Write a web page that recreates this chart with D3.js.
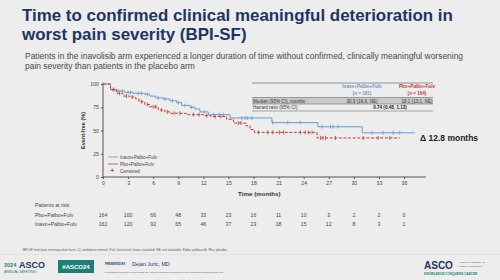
<!DOCTYPE html>
<html>
<head>
<meta charset="utf-8">
<script src="https://cdn.jsdelivr.net/npm/d3@7"></script>
<style>
  body { margin: 0; background: #ededed; }
  svg { display: block; font-family: "Liberation Sans", Arial, sans-serif; }
</style>
</head>
<body>
<div id="chart"></div>
<script>
(function() {
"use strict";

// chart data
var months = [0, 3, 6, 9, 12, 15, 18, 21, 24, 27, 30, 33, 36];
var yTicks = [0, 25, 50, 75, 100];
var riskPbo = [164, 100, 66, 48, 33, 23, 16, 11, 10, 3, 2, 2, 0];
var riskInavo = [161, 120, 92, 65, 46, 37, 23, 18, 15, 12, 8, 3, 1];

var inavoTimes = [0, 0.9, 1.6, 2.6, 3.6, 5.0, 5.6, 6.3, 7.2, 8.0, 8.8, 9.4, 10.4, 11.0, 11.6, 12.6, 15.2, 20.2, 25.7, 31.0, 37.3];
var inavoSurv  = [100, 94, 92.5, 91, 90, 89, 87, 85, 84, 82, 80, 77, 75, 73, 70, 67, 63.5, 58.5, 54, 47.5, 47.5];
var inavoCensor = [1.2, 1.8, 2.3, 3.0, 3.3, 4.2, 4.6, 5.3, 6.6, 7.4, 8.3, 9.0, 9.8, 10.6, 12.1, 13.2, 13.9, 14.4, 16.6, 17.0, 17.3, 17.8, 20.3, 22.1, 23.6, 26.2, 27.2, 27.5, 28.1, 32.2, 33.5, 34.7, 35.5];

var pboTimes = [0, 0.9, 1.6, 2.4, 3.2, 3.9, 4.3, 5.0, 5.6, 6.6, 7.4, 8.1, 10.0, 12.0, 12.9, 14.8, 15.6, 17.1, 17.6, 18.1, 25.6, 35.5];
var pboSurv  = [100, 94, 90, 87, 86, 84, 81, 78, 75.5, 72, 70, 68.5, 67, 66, 65, 62, 58, 55, 51, 48, 42, 42];
var pboCensor = [1.3, 2.0, 2.8, 3.5, 4.6, 5.3, 6.0, 6.3, 7.0, 7.7, 8.5, 9.2, 10.8, 11.5, 12.4, 13.4, 14.1, 16.2, 16.5, 18.6, 19.7, 20.3, 21.1, 21.6, 23.6, 24.2, 24.6, 25.0, 26.0, 26.3, 26.6, 27.8, 31.1, 32.9, 34.3];

var names = ["Inavo+Palbo+Fulv", "Pbo+Palbo+Fulv"];
var nPerArm = [161, 164];
var medians = ["30.9 (16.6, NE)", "18.1 (13.1, NE)"];
var hazard = "0.74 (0.48, 1.13)";

var blue = "#6a97cc";
var red = "#c23b32";
var navy = "#1c3563";
var teal = "#1d8074";

var width = 500, height = 280;

var svg = d3.select("#chart").append("svg")
    .attr("width", width)
    .attr("height", height);

svg.append("rect").attr("width", width).attr("height", height).attr("fill", "#ededed");

// fit a text element to a given width by changing its font size
function fitText(sel, w) {
    var len = sel.node().getComputedTextLength();
    var fs = parseFloat(sel.attr("font-size"));
    sel.attr("font-size", fs * w / len);
}

// title + subtitle
var t1 = svg.append("text").attr("x", 22).attr("y", 21).attr("font-size", 17).attr("font-weight", "bold")
    .attr("fill", navy).text("Time to confirmed clinical meaningful deterioration in");
fitText(t1, 431);
svg.append("text").attr("x", 22).attr("y", 40).attr("font-size", t1.attr("font-size")).attr("font-weight", "bold")
    .attr("fill", navy).text("worst pain severity (BPI-SF)");

var s1 = svg.append("text").attr("x", 25).attr("y", 59).attr("font-size", 7.5).attr("fill", "#4a4a4a")
    .text("Patients in the inavolisib arm experienced a longer duration of time without confirmed, clinically meaningful worsening");
fitText(s1, 439);
svg.append("text").attr("x", 25).attr("y", 69).attr("font-size", s1.attr("font-size")).attr("fill", "#4a4a4a")
    .text("pain severity than patients in the placebo arm");

// scales
var x = d3.scaleLinear().domain([0, 36]).range([103, 404]);
var y = d3.scaleLinear().domain([0, 100]).range([177, 84]);

// axes
var xAxis = svg.append("g").attr("transform", "translate(0," + y(0) + ")")
    .call(d3.axisBottom(x).tickValues(months).tickSize(2).tickPadding(2));
xAxis.select(".domain").attr("d", "M" + x(0) + ",0H" + x(38.6)).attr("stroke", "#555").attr("stroke-width", 1.2);
xAxis.selectAll("text").attr("font-size", 5.2).attr("fill", "#444").attr("font-family", "Liberation Sans, Arial");
xAxis.selectAll(".tick line").attr("stroke", "#555");

var yAxis = svg.append("g").attr("transform", "translate(" + x(0) + ",0)")
    .call(d3.axisLeft(y).tickValues(yTicks).tickSize(2).tickPadding(2));
yAxis.select(".domain").attr("d", "M0," + y(101.5) + "V" + y(0)).attr("stroke", "#555").attr("stroke-width", 1);
yAxis.selectAll("text").attr("font-size", 5.2).attr("fill", "#444").attr("font-family", "Liberation Sans, Arial");
yAxis.selectAll(".tick line").attr("stroke", "#555");

svg.append("text").attr("transform", "translate(85," + y(50) + ") rotate(-90)")
    .attr("text-anchor", "middle").attr("font-size", 5.5).attr("font-weight", "bold").attr("fill", "#333")
    .text("Event-free (%)");
svg.append("text").attr("x", x(18.7)).attr("y", 196).attr("text-anchor", "middle")
    .attr("font-size", 6.2).attr("font-weight", "bold").attr("fill", "#333").text("Time (months)");

// KM curves
var line = d3.line().curve(d3.curveStepAfter)
    .x(function(d) { return x(d[0]); })
    .y(function(d) { return y(d[1]); });

function stepAt(times, surv, t) {
    var i = d3.bisectRight(times, t) - 1;
    return surv[Math.max(0, i)];
}

var arms = [
    { times: inavoTimes, surv: inavoSurv, censor: inavoCensor, color: blue, dash: null },
    { times: pboTimes, surv: pboSurv, censor: pboCensor, color: red, dash: "3,1.6" }
];

arms.forEach(function(a) {
    var pts = a.times.map(function(t, i) { return [t, a.surv[i]]; });
    svg.append("path").datum(pts).attr("d", line)
        .attr("fill", "none").attr("stroke", a.color).attr("stroke-width", 1)
        .attr("stroke-dasharray", a.dash);
    svg.append("g").selectAll("line").data(a.censor).enter().append("line")
        .attr("x1", function(d) { return x(d); })
        .attr("x2", function(d) { return x(d); })
        .attr("y1", function(d) { return y(stepAt(a.times, a.surv, d)) - 2; })
        .attr("y2", function(d) { return y(stepAt(a.times, a.surv, d)) + 2; })
        .attr("stroke", a.color).attr("stroke-width", 0.8);
});

// legend
var leg = svg.append("g").attr("font-size", 4.6).attr("fill", "#444");
[blue, red].forEach(function(c, i) {
    leg.append("line").attr("x1", 108).attr("x2", 118).attr("y1", 157 + i * 7).attr("y2", 157 + i * 7)
        .attr("stroke", c).attr("stroke-width", 0.8);
    leg.append("text").attr("x", 120).attr("y", 158.6 + i * 7).text(names[i]);
});
leg.append("text").attr("x", 110).attr("y", 173.2).attr("font-size", 7.5).attr("fill", "#333").text("+");
leg.append("text").attr("x", 120).attr("y", 172.6).text("Censored");

// summary table
var tbl = svg.append("g").attr("font-size", 4.6);
tbl.append("line").attr("x1", 252).attr("x2", 433).attr("y1", 83).attr("y2", 83).attr("stroke", "#555").attr("stroke-width", 0.6);
var colX = [362, 417];
[blue, red].forEach(function(c, i) {
    tbl.append("text").attr("x", colX[i]).attr("y", 87.8).attr("text-anchor", "middle")
        .attr("fill", c).attr("font-weight", "bold").text(names[i]);
    tbl.append("text").attr("x", colX[i]).attr("y", 94.6).attr("text-anchor", "middle")
        .attr("fill", c).attr("font-weight", "bold").text("(n = " + nPerArm[i] + ")");
});
tbl.append("rect").attr("x", 252).attr("y", 97.5).attr("width", 181).attr("height", 6.5).attr("fill", "#c9c9c9");
tbl.append("line").attr("x1", 252).attr("x2", 433).attr("y1", 97.5).attr("y2", 97.5).attr("stroke", "#555").attr("stroke-width", 0.5);
tbl.append("line").attr("x1", 252).attr("x2", 433).attr("y1", 104).attr("y2", 104).attr("stroke", "#555").attr("stroke-width", 0.5);
tbl.append("line").attr("x1", 252).attr("x2", 433).attr("y1", 111).attr("y2", 111).attr("stroke", "#555").attr("stroke-width", 0.5);
tbl.append("text").attr("x", 253).attr("y", 102.5).attr("fill", "#333").text("Median (95% CI), months");
tbl.append("text").attr("x", 253).attr("y", 109.4).attr("fill", "#333").text("Hazard ratio (95% CI)");
medians.forEach(function(m, i) {
    tbl.append("text").attr("x", colX[i]).attr("y", 102.5).attr("text-anchor", "middle").attr("fill", "#333").text(m);
});
tbl.append("text").attr("x", 390).attr("y", 109.4).attr("text-anchor", "middle").attr("fill", "#222")
    .attr("font-weight", "bold").text(hazard);

svg.append("text").attr("x", 420).attr("y", 141).attr("font-size", 8.5).attr("font-weight", "bold")
    .attr("fill", "#222").text("\u0394 12.8 months");

// patients at risk
var risk = svg.append("g").attr("font-size", 5.2).attr("fill", "#444");
risk.append("text").attr("x", 35).attr("y", 207).text("Patients at risk:");
[["Pbo+Palbo+Fulv", riskPbo, 217], ["Inavo+Palbo+Fulv", riskInavo, 225.5]].forEach(function(r) {
    risk.append("text").attr("x", 35).attr("y", r[2]).text(r[0]);
    risk.selectAll(null).data(r[1]).enter().append("text")
        .attr("x", function(d, i) { return x(months[i]); })
        .attr("y", r[2]).attr("text-anchor", "middle").text(function(d) { return d; });
});

// footnote + footer
svg.append("text").attr("x", 23).attr("y", 251).attr("font-size", 3.1).attr("fill", "#555")
    .text("BPI-SF, brief pain inventory-short form; CI, confidence interval; Fulv, fulvestrant; Inavo, inavolisib; NE, not evaluable; Palbo, palbociclib; Pbo, placebo.");
svg.append("line").attr("x1", 0).attr("x2", width).attr("y1", 254.5).attr("y2", 254.5).attr("stroke", "#d8d8d8").attr("stroke-width", 0.6);

svg.append("text").attr("x", 4).attr("y", 267).attr("font-size", 5.5).attr("font-weight", "bold").attr("fill", teal).text("2024");
svg.append("text").attr("x", 19).attr("y", 267.5).attr("font-size", 9).attr("font-weight", "bold").attr("fill", navy).text("ASCO");
svg.append("text").attr("x", 4).attr("y", 273).attr("font-size", 3.7).attr("fill", teal).text("ANNUAL MEETING");

svg.append("rect").attr("x", 58).attr("y", 260).attr("width", 36).attr("height", 13).attr("fill", teal);
svg.append("text").attr("x", 76).attr("y", 269).attr("text-anchor", "middle").attr("font-size", 6)
    .attr("font-weight", "bold").attr("fill", "#fff").text("#ASCO24");

svg.append("text").attr("x", 105).attr("y", 265).attr("font-size", 2.6).attr("font-weight", "bold").attr("fill", navy).text("PRESENTED BY:");
svg.append("text").attr("x", 132).attr("y", 266).attr("font-size", 5.3).attr("fill", navy).text("Dejan Juric, MD");
svg.append("text").attr("x", 105).attr("y", 273).attr("font-size", 2.4).attr("fill", "#555")
    .text("Presentation is property of the author and ASCO. Permission required for reuse; contact permissions@asco.org");

svg.append("text").attr("x", 424).attr("y", 269).attr("font-size", 10).attr("font-weight", "bold").attr("fill", navy).text("ASCO");
svg.append("text").attr("x", 459).attr("y", 263).attr("font-size", 2.3).attr("fill", "#555").text("AMERICAN SOCIETY OF");
svg.append("text").attr("x", 459).attr("y", 266.5).attr("font-size", 2.3).attr("fill", "#555").text("CLINICAL ONCOLOGY");
svg.append("text").attr("x", 424).attr("y", 275).attr("font-size", 3.1).attr("font-weight", "bold").attr("fill", teal).text("KNOWLEDGE CONQUERS CANCER");

})();
</script>
</body>
</html>
